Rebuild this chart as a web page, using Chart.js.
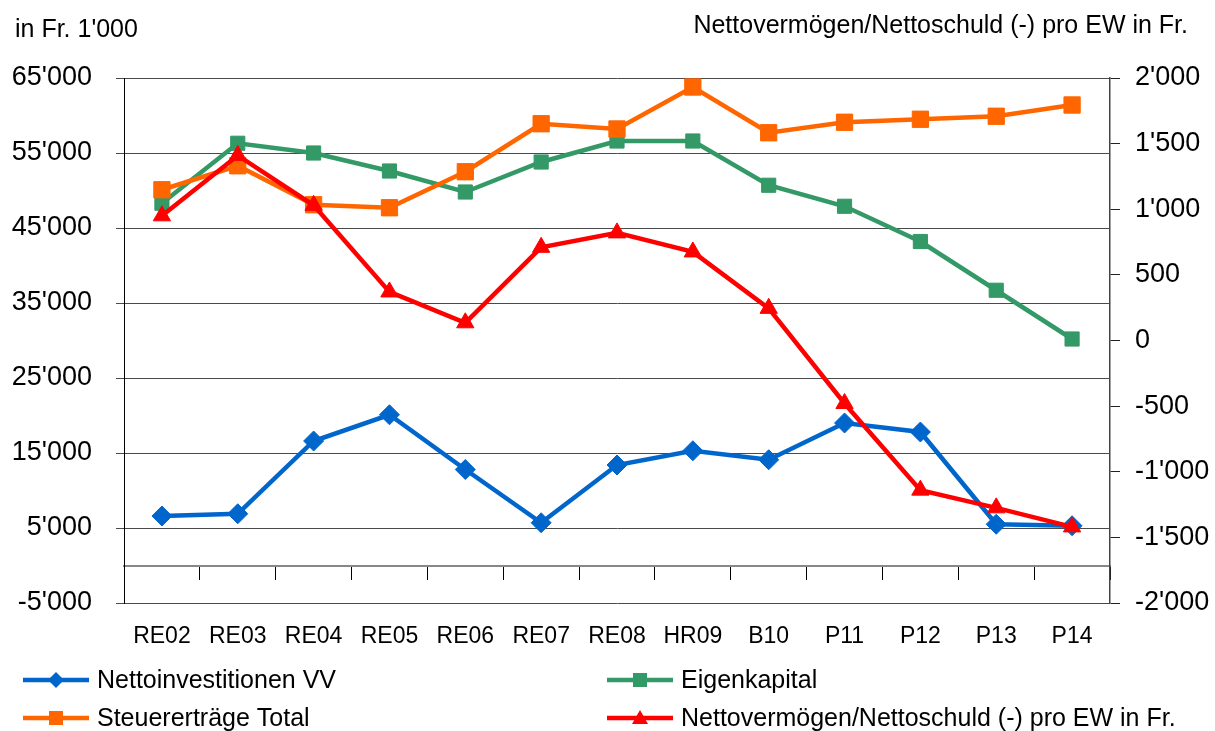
<!DOCTYPE html>
<html>
<head>
<meta charset="utf-8">
<script src="https://cdn.jsdelivr.net/npm/chart.js@4/dist/chart.umd.min.js"></script>
<style>
  html, body { margin: 0; padding: 0; background: #fff; }
</style>
</head>
<body>
<canvas id="chart" width="1215" height="731"></canvas>
<script>
// Daten
var kategorien = ['RE02', 'RE03', 'RE04', 'RE05', 'RE06', 'RE07', 'RE08', 'HR09', 'B10', 'P11', 'P12', 'P13', 'P14'];
var nettoinvestitionen = [6600, 6900, 16600, 20100, 12800, 5700, 13400, 15300, 14100, 19000, 17800, 5500, 5300];
var eigenkapital = [48300, 56300, 55000, 52600, 49800, 53800, 56600, 56600, 50700, 47900, 43200, 36700, 30200];
var steuerertraege = [50100, 53300, 48100, 47700, 52500, 58900, 58200, 63800, 57700, 59100, 59500, 59900, 61400];
var nettovermoegen = [950, 1410, 1030, 370, 135, 710, 820, 675, 245, -480, -1140, -1275, -1420];
var linksTicks = [-5000, 5000, 15000, 25000, 35000, 45000, 55000, 65000];
var rechtsTicks = [-2000, -1500, -1000, -500, 0, 500, 1000, 1500, 2000];
var titelLinks = "in Fr. 1'000";
var titelRechts = "Nettovermögen/Nettoschuld (-) pro EW in Fr.";

var schrift = "'Liberation Sans', Arial, sans-serif";
Chart.defaults.font.family = schrift;
Chart.defaults.color = '#000';

// Tausendertrennzeichen mit Apostroph
function fmt(v) {
  var s = String(Math.abs(v)).replace(/\B(?=(\d{3})+(?!\d))/g, "'");
  return (v < 0 ? '-' : '') + s;
}

// Marker fuer die Legende
function drawMarker(ctx, style, x, y, color) {
  ctx.fillStyle = color;
  ctx.beginPath();
  if (style === 'rectRot') {
    ctx.moveTo(x - 8, y); ctx.lineTo(x, y - 8); ctx.lineTo(x + 8, y); ctx.lineTo(x, y + 8);
  } else if (style === 'triangle') {
    ctx.moveTo(x, y - 8); ctx.lineTo(x + 8, y + 6); ctx.lineTo(x - 8, y + 6);
  } else {
    ctx.rect(x - 7, y - 7, 14, 14);
  }
  ctx.closePath();
  ctx.fill();
}

var legendeSpalten = [23, 607];
var legendeZeilen = [680, 718];

var textPlugin = {
  id: 'texte',
  afterDraw: function(chart) {
    var ctx = chart.ctx;
    ctx.save();
    ctx.font = '25px ' + schrift;
    ctx.fillStyle = '#000';
    ctx.textBaseline = 'alphabetic';
    ctx.textAlign = 'left';
    ctx.fillText(titelLinks, 15, 37);
    ctx.textAlign = 'right';
    ctx.fillText(titelRechts, 1188, 33);

    ctx.textAlign = 'left';
    ctx.textBaseline = 'middle';
    chart.data.datasets.forEach(function(ds, i) {
      var x0 = legendeSpalten[i % 2];
      var y = legendeZeilen[Math.floor(i / 2)];
      ctx.strokeStyle = ds.borderColor;
      ctx.lineWidth = 4.5;
      ctx.beginPath();
      ctx.moveTo(x0, y);
      ctx.lineTo(x0 + 66, y);
      ctx.stroke();
      drawMarker(ctx, ds.pointStyle, x0 + 33, y, ds.borderColor);
      ctx.fillStyle = '#000';
      ctx.fillText(ds.label, x0 + 74, y + 1);
    });
    ctx.restore();
  }
};

function serie(label, data, color, style, radius, axis, order) {
  return {
    label: label,
    data: data,
    yAxisID: axis,
    xAxisID: 'x',
    order: order,
    borderColor: color,
    backgroundColor: color,
    borderWidth: 4.5,
    tension: 0,
    fill: false,
    pointStyle: style,
    pointRadius: radius,
    pointHoverRadius: radius,
    pointBackgroundColor: color,
    pointBorderColor: color,
    pointBorderWidth: 1
  };
}

var ctx = document.getElementById('chart').getContext('2d');
var chart = new Chart(ctx, {
  type: 'line',
  data: {
    labels: kategorien,
    datasets: [
      serie('Nettoinvestitionen VV', nettoinvestitionen, '#0066CC', 'rectRot', 10, 'y', 3),
      serie('Eigenkapital', eigenkapital, '#339966', 'rect', 10, 'y', 2),
      serie('Steuererträge Total', steuerertraege, '#FF6600', 'rect', 11.5, 'y', 1),
      serie('Nettovermögen/Nettoschuld (-) pro EW in Fr.', nettovermoegen, '#FF0000', 'triangle', 10, 'y1', 0)
    ]
  },
  options: {
    responsive: false,
    animation: false,
    layout: { padding: { left: 0, right: 0, top: 78, bottom: 80 } },
    plugins: {
      legend: { display: false },
      tooltip: { enabled: false }
    },
    scales: {
      x: {
        type: 'category',
        position: 'bottom',
        offset: true,
        grid: { display: false, drawTicks: false },
        border: { display: false },
        ticks: { font: { size: 23 }, padding: 20, maxRotation: 0, autoSkip: false },
        afterFit: function(scale) { scale.height = 48; }
      },
      xNull: {
        type: 'category',
        labels: kategorien,
        position: { y: 0 },
        offset: true,
        grid: { offset: true, drawOnChartArea: false, tickLength: 13, color: '#000', lineWidth: 1 },
        border: { color: '#888', width: 2 },
        ticks: { display: false }
      },
      y: {
        position: 'left',
        min: -5000,
        max: 65000,
        afterBuildTicks: function(scale) {
          scale.ticks = linksTicks.map(function(v) { return { value: v }; });
        },
        grid: { color: '#4a4a4a', lineWidth: 1, tickLength: 8 },
        border: { color: '#000', width: 1 },
        ticks: { font: { size: 27 }, padding: 24, callback: function(v) { return fmt(v); } },
        afterFit: function(scale) { scale.width = 124; }
      },
      y1: {
        position: 'right',
        min: -2000,
        max: 2000,
        afterBuildTicks: function(scale) {
          scale.ticks = rechtsTicks.map(function(v) { return { value: v }; });
        },
        grid: { drawOnChartArea: false, tickLength: 10, color: '#222' },
        border: { color: '#444', width: 1.5 },
        ticks: { font: { size: 27 }, padding: 15, callback: function(v) { return fmt(v); } },
        afterFit: function(scale) { scale.width = 105; }
      }
    }
  },
  plugins: [textPlugin]
});
</script>
</body>
</html>
